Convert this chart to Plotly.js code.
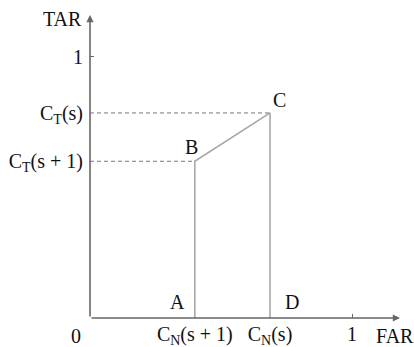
<!DOCTYPE html>
<html>
<head>
<meta charset="utf-8">
<script src="https://cdn.plot.ly/plotly-3.0.1.min.js"></script>
<style>
  html, body { margin: 0; padding: 0; background: #fff; }
  #chart { width: 414px; height: 347px; }
</style>
</head>
<body>
<div id="chart"></div>
<script>
// corner points of the curve A-B-C-D
var pointNames = ['A', 'B', 'C', 'D'];
var pointX = [0.40, 0.40, 0.687, 0.687];
var pointY = [0, 0.60, 0.785, 0];

// tick labels
var farTickVals = [0.40, 0.687, 1];
var farTickText = ['C<sub>N</sub>(s + 1)', 'C<sub>N</sub>(s)', '1'];
var tarTickVals = [0.60, 0.785, 1];
var tarTickText = ['C<sub>T</sub>(s + 1)', 'C<sub>T</sub>(s)', '1'];

var xMax = 1.183;
var yMax = 1.16;

var serif = { family: 'Liberation Serif', size: 20, color: '#111' };
var axisColor = '#666';
var curveColor = '#a8a8a8';

// dashed guides from the TAR axis to B and C
var guideC = {
  x: [0, pointX[2]], y: [pointY[2], pointY[2]],
  mode: 'lines', line: { color: '#777', width: 1, dash: '4px,3px' },
  hoverinfo: 'skip', showlegend: false
};
var guideB = {
  x: [0, pointX[1]], y: [pointY[1], pointY[1]],
  mode: 'lines', line: { color: '#777', width: 1, dash: '4px,3px' },
  hoverinfo: 'skip', showlegend: false
};
var curve = {
  x: pointX, y: pointY,
  mode: 'lines', line: { color: curveColor, width: 1.6 },
  hoverinfo: 'skip', showlegend: false
};

// ticks at 1 only, drawn on overlay axes
var tickDummy = {
  x: [0], y: [0], xaxis: 'x2', yaxis: 'y2',
  mode: 'markers', marker: { opacity: 0 },
  hoverinfo: 'skip', showlegend: false
};

var labelShift = {
  A: [-17, 16], B: [-3, 14], C: [9, 13], D: [22, 16]
};

var annotations = pointNames.map(function (n, i) {
  return {
    x: pointX[i], y: pointY[i], xref: 'x', yref: 'y',
    text: n, showarrow: false, font: serif,
    xshift: labelShift[n][0], yshift: labelShift[n][1]
  };
});

// axes with arrow heads
annotations.push({
  x: xMax, y: 0, ax: 0, ay: 0, xref: 'x', yref: 'y', axref: 'x', ayref: 'y',
  text: '', showarrow: true, arrowhead: 2, arrowsize: 0.9, arrowwidth: 1.6,
  arrowcolor: axisColor, standoff: 0
});
annotations.push({
  x: 0, y: yMax, ax: 0, ay: 0, xref: 'x', yref: 'y', axref: 'x', ayref: 'y',
  text: '', showarrow: true, arrowhead: 2, arrowsize: 0.9, arrowwidth: 1.6,
  arrowcolor: axisColor, standoff: 0
});
annotations.push({ x: 0, y: 0, xref: 'x', yref: 'y', text: '0', showarrow: false,
  font: serif, xshift: -14, yshift: -18 });
annotations.push({ x: xMax, y: 0, xref: 'x', yref: 'y', text: 'FAR', showarrow: false,
  font: serif, xshift: -5, yshift: -18 });
annotations.push({ x: 0, y: yMax, xref: 'x', yref: 'y', text: 'TAR', showarrow: false,
  font: serif, xshift: -28, yshift: -4 });

var layout = {
  width: 414, height: 347,
  margin: { l: 90, r: 14, t: 15, b: 29 },
  paper_bgcolor: '#fff', plot_bgcolor: '#fff',
  showlegend: false,
  font: serif,
  xaxis: {
    range: [0, xMax], showgrid: false, zeroline: false, showline: false,
    tickvals: farTickVals, ticktext: farTickText, ticks: '',
    ticklabelstandoff: 2, tickfont: serif, fixedrange: true
  },
  yaxis: {
    range: [0, yMax], showgrid: false, zeroline: false, showline: false,
    tickvals: tarTickVals, ticktext: tarTickText, ticks: '',
    ticklabelstandoff: 6, tickfont: serif, fixedrange: true
  },
  xaxis2: {
    overlaying: 'x', range: [0, xMax], showgrid: false, zeroline: false,
    tickvals: [1], ticks: 'inside', ticklen: 4, tickwidth: 1, tickcolor: axisColor,
    showticklabels: false
  },
  yaxis2: {
    overlaying: 'y', range: [0, yMax], showgrid: false, zeroline: false,
    tickvals: [1], ticks: 'inside', ticklen: 4, tickwidth: 1, tickcolor: axisColor,
    showticklabels: false
  },
  annotations: annotations
};

Plotly.newPlot('chart', [guideC, guideB, curve, tickDummy], layout, { displayModeBar: false, staticPlot: true });
</script>
</body>
</html>
